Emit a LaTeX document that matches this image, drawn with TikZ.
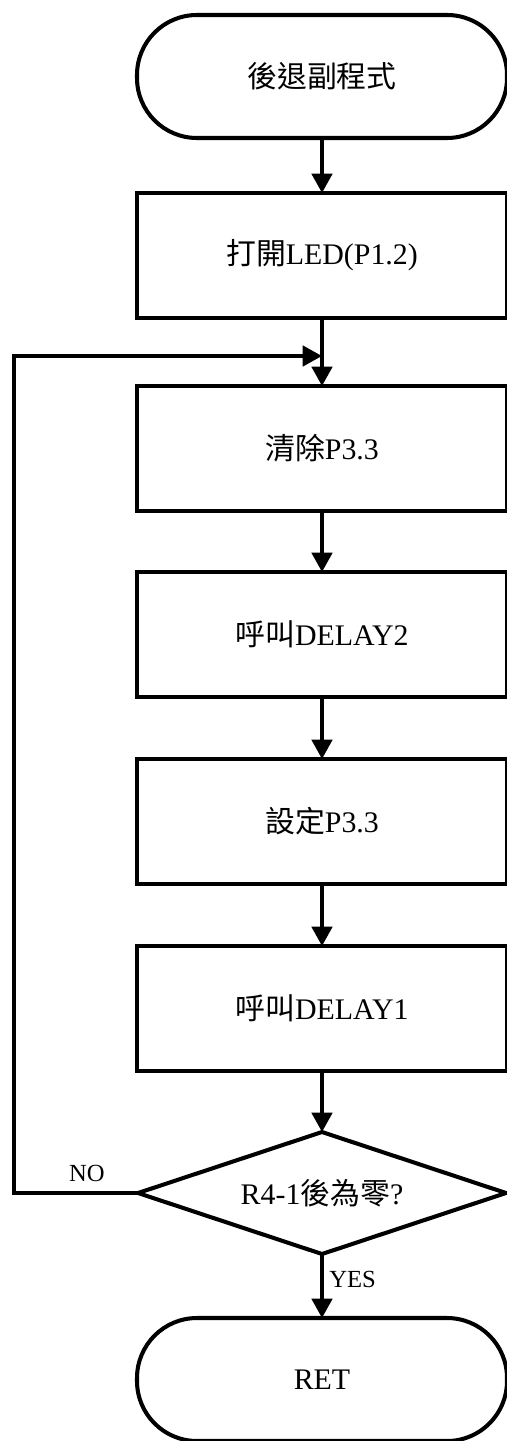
\documentclass[tikz,border=0pt]{standalone}
\usepackage{fontspec}
\setmainfont{Liberation Serif}
\newfontfamily\cjk{Noto Sans CJK TC}
\usetikzlibrary{positioning,arrows.meta,shapes.geometric}
\tikzset{
  term/.style={draw,line width=2.3pt,outer sep=0pt,rounded corners=1.2cm,minimum width=7.4cm,minimum height=2.46cm,font=\fontsize{17}{20}\selectfont},
  proc/.style={draw,line width=2.3pt,outer sep=0pt,minimum width=7.4cm,minimum height=2.5cm,font=\fontsize{17}{20}\selectfont},
  dec/.style={draw,diamond,line width=2.3pt,outer sep=0pt,shape aspect=3,inner sep=0pt,minimum width=7.36cm,minimum height=2.44cm,font=\fontsize{17}{20}\selectfont},
  flow/.style={line width=2.3pt,-{Triangle[length=11pt,width=11.5pt]}},
  lbl/.style={font=\fontsize{14}{16}\selectfont,inner sep=0pt}
}

\begin{document}
\begin{tikzpicture}[node distance=1.24cm]
  \useasboundingbox (0,0) rectangle (10.12,-28.82);
  \node[term] (start) at (6.44,-1.53) {{\cjk 後退副程式}};
  \node[proc,below=1.1cm of start] (led) {{\cjk 打開}LED(P1.2)};
  \node[proc,below=1.36cm of led] (clr) {{\cjk 清除}P3.3};
  \node[proc,below=1.22cm of clr] (dly2) {{\cjk 呼叫}DELAY2};
  \node[proc,below=of dly2] (set) {{\cjk 設定}P3.3};
  \node[proc,below=of set] (dly1) {{\cjk 呼叫}DELAY1};
  \node[dec,below=1.22cm of dly1] (chk) {R4-1{\cjk 後為零}?};
  \node[term,below=1.28cm of chk] (ret) {RET};
  \coordinate (join) at ([yshift=-0.76cm]led.south);
  \draw[flow] (start) -- (led);
  \draw[flow] (led) -- (clr);
  \draw[flow] (clr) -- (dly2);
  \draw[flow] (dly2) -- (set);
  \draw[flow] (set) -- (dly1);
  \draw[flow] (dly1) -- (chk);
  \draw[flow] (chk) -- (ret);
  % loop back
  \draw[flow] (chk.west) -- ++(-2.48,0) |- (join);
  \node[lbl] (no) at (1.74,-23.46) {NO};
  \node[lbl,anchor=west] (yes) at (6.58,-25.58) {YES};
\end{tikzpicture}
\end{document}
